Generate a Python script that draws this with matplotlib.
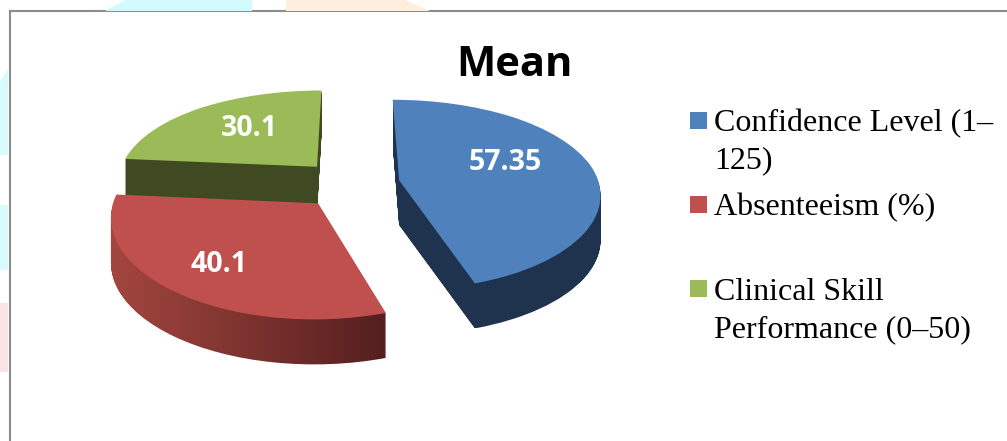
import numpy as np
import matplotlib
matplotlib.use("Agg")
import matplotlib.pyplot as plt
from matplotlib.colors import LinearSegmentedColormap
from matplotlib.patches import Polygon, Rectangle
from matplotlib.path import Path
from matplotlib.transforms import Transform, IdentityTransform

title = "Mean"
categories = ["Confidence Level (1–\n125)", "Absenteeism (%)", "Clinical Skill\nPerformance (0–50)"]
values = [57.35, 40.1, 30.1]
value_labels = ["57.35", "40.1", "30.1"]
top_colors = ["#4f81bd", "#c0504d", "#9bbb59"]
wall_colors = [("#1f334f", "#1f334f"), ("#a4463f", "#541f1f"), ("#404a22", "#404a22")]

W, H = 1007, 441
DEPTH = 45


def fx(px):
    return px / W


def fy(py):
    return 1 - py / H


class Tilt(Transform):
    # fake perspective for the pie, the back gets smaller
    input_dims = 2
    output_dims = 2

    def transform_non_affine(self, xy):
        xy = np.asarray(xy)
        x = xy[:, 0] * (1 - 0.13 * xy[:, 1])
        y = xy[:, 1] - 0.15 * xy[:, 1] ** 2
        return np.column_stack([x, y])


fig = plt.figure(figsize=(W / 100, H / 100), dpi=100, facecolor="white")

###....page watermark around the frame....###
for pts, c in [
    ([(105, 11), (125, 0), (252, 0), (252, 11)], "#d2fbfd"),
    ([(286, 11), (286, 0), (405, 0), (430, 11)], "#feeede"),
    ([(0, 82), (8, 68), (8, 155), (0, 155)], "#d8fbfd"),
    ([(0, 205), (8, 205), (8, 270), (0, 270)], "#d8fbfd"),
    ([(0, 303), (8, 303), (8, 372), (0, 372)], "#fde4e4"),
]:
    fig.patches.append(Polygon([(fx(a), fy(b)) for a, b in pts], closed=True, fc=c, ec="none",
                               transform=fig.transFigure, figure=fig))

ax = fig.add_axes([0, 0, 1, 1])
wedges, _ = ax.pie(values, startangle=90, counterclock=False, explode=[0.25, 0.25, 0.25],
                   colors=top_colors, wedgeprops={"linewidth": 0})

tilt = Tilt()
draw_order = [2, 1, 0]  # green at the back, blue last
z = 1
for i in draw_order:
    w = wedges[i]
    w.set_transform(tilt + ax.transData)
    w.set_zorder(z + 1)
    z += 2

ax.set_aspect("auto")
ax.set_xlim(-350 / 200, (W - 350) / 200)
ax.set_ylim(-(H - 184) / 96, 184 / 96)
xlim, ylim = ax.get_xlim(), ax.get_ylim()
ax.axis("off")

###....side walls, the wedge dragged down and clipped gradient....###
z = 1
for i in draw_order:
    w = wedges[i]
    top = w.get_transform().transform_path(w.get_path())
    layers = [Path(top.vertices - [0, k], top.codes) for k in range(1, DEPTH + 1)]
    wall = Path.make_compound_path(*layers)
    x0, x1 = wall.vertices[:, 0].min(), wall.vertices[:, 0].max()
    y0, y1 = wall.vertices[:, 1].min(), wall.vertices[:, 1].max()
    cmap = LinearSegmentedColormap.from_list("wall", wall_colors[i])
    im = ax.imshow(np.linspace(0, 1, 256).reshape(1, -1), extent=(x0, x1, y0, y1), cmap=cmap,
                   aspect="auto", transform=IdentityTransform(), zorder=z, interpolation="bilinear")
    im.set_clip_path(wall, IdentityTransform())
    z += 2
ax.set_xlim(xlim)
ax.set_ylim(ylim)

###....text....###
label_pos = [(505, 162), (219, 264), (249, 128)]
for lab, (a, b) in zip(value_labels, label_pos):
    fig.text(fx(a), fy(b), lab, color="white", fontsize=20.5, fontweight="bold", family="Open Sans",
             ha="center", va="center", zorder=20)

fig.text(fx(514), fy(65), title, fontsize=30, fontweight="bold", family="Open Sans",
         ha="center", va="center", color="black")

legend_y = [(124, 161), (208,), (293, 330)]
swatch_y = [120.5, 204.5, 288.5]
for cat, ys, sy, c in zip(categories, legend_y, swatch_y, top_colors):
    fig.patches.append(Rectangle((fx(690), fy(sy + 8.5)), 17 / W, 17 / H, fc=c, ec="none",
                                 transform=fig.transFigure, figure=fig))
    for line, y in zip(cat.split("\n"), ys):
        fig.text(fx(714), fy(y), line, fontsize=23, family="Liberation Serif",
                 ha="left", va="center", color="black")

###....frame....###
ax.plot([fx(10), fx(10)], [0, fy(11)], color="#8c8c8c", lw=1.5, transform=fig.transFigure, clip_on=False)
ax.plot([fx(10), 1], [fy(11), fy(11)], color="#8c8c8c", lw=1.5, transform=fig.transFigure, clip_on=False)

fig.savefig("out.png", dpi=100)
